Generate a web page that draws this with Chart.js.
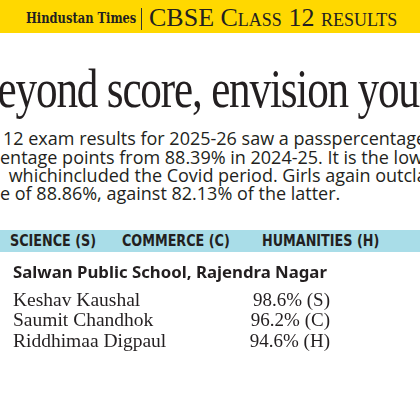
<!DOCTYPE html>
<html>
<head>
<meta charset="utf-8">
<script src="https://cdn.jsdelivr.net/npm/chart.js@4.4.1/dist/chart.umd.min.js"></script>
<style>
  html,body{margin:0;padding:0;background:#fff;width:420px;height:420px;overflow:hidden;position:relative;}
  .abs{position:absolute;white-space:nowrap;color:#231f20;}
  #band{position:absolute;left:0;top:0;width:420px;height:33px;background:#FFD800;}
  #ht{left:26px;top:9px;font-family:"DejaVu Serif Condensed","DejaVu Serif",serif;font-weight:bold;font-size:14.5px;line-height:18px;transform:scaleX(0.88);transform-origin:0 0;}
  #sep{position:absolute;left:141px;top:8px;width:1px;height:22px;background:#333;}
  #cbse{left:149px;top:3px;font-family:"Liberation Serif",serif;font-size:26px;line-height:30px;font-variant:small-caps;}
  #head{left:-30px;top:59px;font-family:"Liberation Serif",serif;font-size:54px;line-height:60px;letter-spacing:-1.5px;transform:scaleX(0.80);transform-origin:0 0;}
  .para{font-family:"Open Sans",sans-serif;font-size:18px;line-height:19px;}
  #bar{position:absolute;left:0;top:230px;width:420px;height:22px;background:#A9DDE8;}
  .subj{top:230px;font-family:"DejaVu Sans Condensed",sans-serif;font-weight:bold;font-size:16.5px;line-height:22px;transform:scaleX(0.86);transform-origin:0 0;}
  #wrap{position:absolute;left:0;top:261px;width:420px;height:103px;}
</style>
</head>
<body>
<div id="band"></div>
<div class="abs" id="ht">Hindustan Times</div>
<div id="sep"></div>
<div class="abs" id="cbse">CBSE Class 12 results</div>
<div class="abs" id="head">Beyond score, envision your future</div>
<div class="abs para" style="left:3px;top:129px;">12 exam results for 2025-26 saw a passpercentage of</div>
<div class="abs para" style="left:0px;top:148px;">entage points from 88.39% in 2024-25. It is the lowest</div>
<div class="abs para" style="left:4px;top:166px;">&nbsp;whichincluded the Covid period. Girls again outclassed</div>
<div class="abs para" style="left:0px;top:184px;">e of 88.86%, against 82.13% of the latter.</div>
<div id="bar"></div>
<div class="abs subj" style="left:10px;">SCIENCE (S)</div>
<div class="abs subj" style="left:122px;">COMMERCE (C)</div>
<div class="abs subj" style="left:262px;">HUMANITIES (H)</div>
<div id="wrap"><canvas id="c"></canvas></div>
<script>
const schoolName = "Salwan Public School, Rajendra Nagar";
const students = ["Keshav Kaushal", "Saumit Chandhok", "Riddhimaa Digpaul"];
const scores = [98.6, 96.2, 94.6];
const streams = ["S", "C", "H"];

const scoreLabels = {
  id: "scoreLabels",
  afterDatasetsDraw(chart) {
    const ctx = chart.ctx;
    const meta = chart.getDatasetMeta(0);
    const xScale = chart.scales.x;
    ctx.save();
    ctx.font = '19px "Liberation Serif", serif';
    ctx.fillStyle = "#231f20";
    ctx.textAlign = "right";
    ctx.textBaseline = "middle";
    meta.data.forEach((el, i) => {
      ctx.fillText(scores[i].toFixed(1) + "% (" + streams[i] + ")", xScale.right, el.y);
    });
    ctx.restore();
  }
};

new Chart(document.getElementById("c"), {
  type: "bar",
  data: {
    labels: students,
    datasets: [{ data: scores, backgroundColor: "rgba(0,0,0,0)", borderWidth: 0 }]
  },
  options: {
    indexAxis: "y",
    responsive: true,
    maintainAspectRatio: false,
    animation: false,
    layout: { padding: { left: 13, right: 90, top: 0, bottom: 0 } },
    plugins: {
      legend: { display: false },
      tooltip: { enabled: false },
      title: {
        display: true,
        text: schoolName,
        align: "start",
        color: "#231f20",
        font: { family: '"Noto Sans", sans-serif', size: 16.8, weight: "bold" },
        padding: { top: 2, bottom: 7 }
      }
    },
    scales: {
      x: { display: false, min: 0, max: 100 },
      y: {
        grid: { display: false },
        border: { display: false },
        ticks: {
          autoSkip: false,
          crossAlign: "far",
          padding: 0,
          color: "#231f20",
          font: { family: '"Liberation Serif", serif', size: 19.5 }
        }
      }
    }
  },
  plugins: [scoreLabels]
});
</script>
</body>
</html>
